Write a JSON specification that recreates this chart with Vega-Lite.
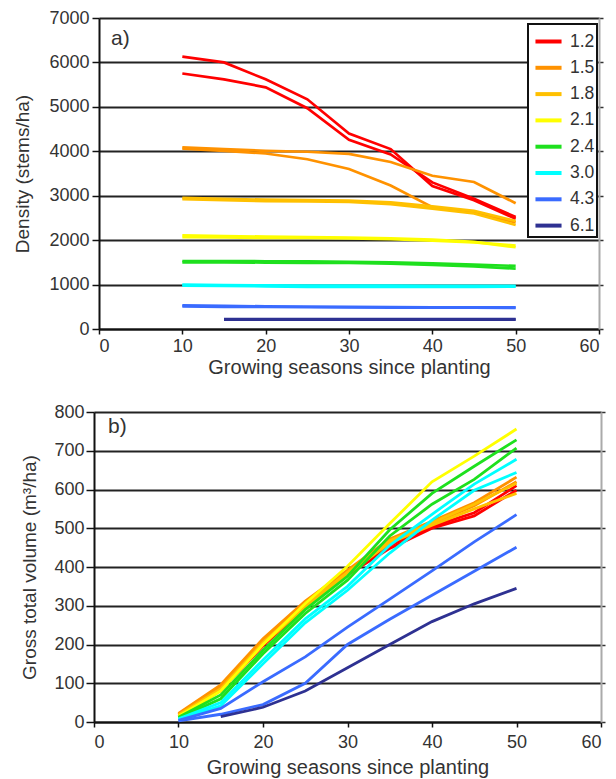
{
  "$schema": "https://vega.github.io/schema/vega-lite/v6.json",
  "padding": {"left": 13, "top": 9, "right": 5, "bottom": 3},
  "spacing": 26,
  "columns": 1,
  "align": "none",
  "background": "white",
  "config": {
    "font": "Liberation Sans",
    "view": {"stroke": null},
    "axis": {
      "labelFont": "Liberation Sans", "titleFont": "Liberation Sans",
      "labelColor": "#333", "titleColor": "#333",
      "labelFontSize": 18, "titleFontSize": 19, "titleFontWeight": "normal",
      "domainColor": "#111", "domainWidth": 2,
      "tickColor": "#111", "tickWidth": 1.5,
      "gridColor": "#222", "gridWidth": 2
    },
    "legend": {
      "symbolType": "stroke", "symbolStrokeWidth": 4, "symbolSize": 680,
      "labelFontSize": 17.5, "labelColor": "#333", "labelFont": "Liberation Sans",
      "padding": 2, "symbolOffset": 3, "labelOffset": 6,
      "strokeColor": "#111", "fillColor": "white"
    }
  },
  "datasets": {
    "dens": [
      {"s":"1.2","r":"A","x":10,"y":6130},{"s":"1.2","r":"A","x":15,"y":6000},{"s":"1.2","r":"A","x":20,"y":5620},{"s":"1.2","r":"A","x":25,"y":5170},{"s":"1.2","r":"A","x":30,"y":4400},{"s":"1.2","r":"A","x":35,"y":4050},{"s":"1.2","r":"A","x":40,"y":3220},{"s":"1.2","r":"A","x":45,"y":2900},{"s":"1.2","r":"A","x":50,"y":2480},
      {"s":"1.2","r":"B","x":10,"y":5750},{"s":"1.2","r":"B","x":15,"y":5620},{"s":"1.2","r":"B","x":20,"y":5440},{"s":"1.2","r":"B","x":25,"y":4970},{"s":"1.2","r":"B","x":30,"y":4260},{"s":"1.2","r":"B","x":35,"y":3930},{"s":"1.2","r":"B","x":40,"y":3300},{"s":"1.2","r":"B","x":45,"y":2930},{"s":"1.2","r":"B","x":50,"y":2520},
      {"s":"1.5","r":"A","x":10,"y":4090},{"s":"1.5","r":"A","x":15,"y":4050},{"s":"1.5","r":"A","x":20,"y":4010},{"s":"1.5","r":"A","x":25,"y":3990},{"s":"1.5","r":"A","x":30,"y":3940},{"s":"1.5","r":"A","x":35,"y":3760},{"s":"1.5","r":"A","x":40,"y":3450},{"s":"1.5","r":"A","x":45,"y":3310},{"s":"1.5","r":"A","x":50,"y":2830},
      {"s":"1.5","r":"B","x":10,"y":4060},{"s":"1.5","r":"B","x":15,"y":4010},{"s":"1.5","r":"B","x":20,"y":3950},{"s":"1.5","r":"B","x":25,"y":3820},{"s":"1.5","r":"B","x":30,"y":3600},{"s":"1.5","r":"B","x":35,"y":3230},{"s":"1.5","r":"B","x":40,"y":2740},{"s":"1.5","r":"B","x":45,"y":2620},{"s":"1.5","r":"B","x":50,"y":2400},
      {"s":"1.8","r":"A","x":10,"y":2950},{"s":"1.8","r":"A","x":15,"y":2930},{"s":"1.8","r":"A","x":20,"y":2910},{"s":"1.8","r":"A","x":25,"y":2900},{"s":"1.8","r":"A","x":30,"y":2890},{"s":"1.8","r":"A","x":35,"y":2850},{"s":"1.8","r":"A","x":40,"y":2760},{"s":"1.8","r":"A","x":45,"y":2660},{"s":"1.8","r":"A","x":50,"y":2430},
      {"s":"1.8","r":"B","x":10,"y":2920},{"s":"1.8","r":"B","x":15,"y":2900},{"s":"1.8","r":"B","x":20,"y":2880},{"s":"1.8","r":"B","x":25,"y":2870},{"s":"1.8","r":"B","x":30,"y":2860},{"s":"1.8","r":"B","x":35,"y":2810},{"s":"1.8","r":"B","x":40,"y":2710},{"s":"1.8","r":"B","x":45,"y":2600},{"s":"1.8","r":"B","x":50,"y":2340},
      {"s":"2.1","r":"A","x":10,"y":2110},{"s":"2.1","r":"A","x":15,"y":2090},{"s":"2.1","r":"A","x":20,"y":2080},{"s":"2.1","r":"A","x":25,"y":2070},{"s":"2.1","r":"A","x":30,"y":2060},{"s":"2.1","r":"A","x":35,"y":2040},{"s":"2.1","r":"A","x":40,"y":2010},{"s":"2.1","r":"A","x":45,"y":1960},{"s":"2.1","r":"A","x":50,"y":1840},
      {"s":"2.1","r":"B","x":10,"y":2070},{"s":"2.1","r":"B","x":15,"y":2060},{"s":"2.1","r":"B","x":20,"y":2050},{"s":"2.1","r":"B","x":25,"y":2050},{"s":"2.1","r":"B","x":30,"y":2040},{"s":"2.1","r":"B","x":35,"y":2020},{"s":"2.1","r":"B","x":40,"y":1990},{"s":"2.1","r":"B","x":45,"y":1950},{"s":"2.1","r":"B","x":50,"y":1880},
      {"s":"2.4","r":"A","x":10,"y":1530},{"s":"2.4","r":"A","x":15,"y":1530},{"s":"2.4","r":"A","x":20,"y":1525},{"s":"2.4","r":"A","x":25,"y":1520},{"s":"2.4","r":"A","x":30,"y":1510},{"s":"2.4","r":"A","x":35,"y":1500},{"s":"2.4","r":"A","x":40,"y":1480},{"s":"2.4","r":"A","x":45,"y":1450},{"s":"2.4","r":"A","x":50,"y":1420},
      {"s":"2.4","r":"B","x":10,"y":1500},{"s":"2.4","r":"B","x":15,"y":1500},{"s":"2.4","r":"B","x":20,"y":1495},{"s":"2.4","r":"B","x":25,"y":1490},{"s":"2.4","r":"B","x":30,"y":1485},{"s":"2.4","r":"B","x":35,"y":1470},{"s":"2.4","r":"B","x":40,"y":1440},{"s":"2.4","r":"B","x":45,"y":1410},{"s":"2.4","r":"B","x":50,"y":1360},
      {"s":"3.0","r":"A","x":10,"y":1000},{"s":"3.0","r":"A","x":15,"y":990},{"s":"3.0","r":"A","x":20,"y":980},{"s":"3.0","r":"A","x":25,"y":975},{"s":"3.0","r":"A","x":30,"y":975},{"s":"3.0","r":"A","x":35,"y":975},{"s":"3.0","r":"A","x":40,"y":970},{"s":"3.0","r":"A","x":45,"y":970},{"s":"3.0","r":"A","x":50,"y":970},
      {"s":"3.0","r":"B","x":10,"y":975},{"s":"3.0","r":"B","x":15,"y":970},{"s":"3.0","r":"B","x":20,"y":960},{"s":"3.0","r":"B","x":25,"y":950},{"s":"3.0","r":"B","x":30,"y":950},{"s":"3.0","r":"B","x":35,"y":950},{"s":"3.0","r":"B","x":40,"y":950},{"s":"3.0","r":"B","x":45,"y":950},{"s":"3.0","r":"B","x":50,"y":955},
      {"s":"4.3","r":"A","x":10,"y":530},{"s":"4.3","r":"A","x":15,"y":520},{"s":"4.3","r":"A","x":20,"y":510},{"s":"4.3","r":"A","x":25,"y":505},{"s":"4.3","r":"A","x":30,"y":500},{"s":"4.3","r":"A","x":35,"y":495},{"s":"4.3","r":"A","x":40,"y":490},{"s":"4.3","r":"A","x":45,"y":490},{"s":"4.3","r":"A","x":50,"y":490},
      {"s":"4.3","r":"B","x":10,"y":510},{"s":"4.3","r":"B","x":15,"y":500},{"s":"4.3","r":"B","x":20,"y":495},{"s":"4.3","r":"B","x":25,"y":490},{"s":"4.3","r":"B","x":30,"y":485},{"s":"4.3","r":"B","x":35,"y":480},{"s":"4.3","r":"B","x":40,"y":480},{"s":"4.3","r":"B","x":45,"y":478},{"s":"4.3","r":"B","x":50,"y":475},
      {"s":"6.1","r":"A","x":15,"y":225},{"s":"6.1","r":"A","x":20,"y":225},{"s":"6.1","r":"A","x":25,"y":225},{"s":"6.1","r":"A","x":30,"y":224},{"s":"6.1","r":"A","x":35,"y":223},{"s":"6.1","r":"A","x":40,"y":222},{"s":"6.1","r":"A","x":45,"y":222},{"s":"6.1","r":"A","x":50,"y":222},
      {"s":"6.1","r":"B","x":15,"y":212},{"s":"6.1","r":"B","x":20,"y":212},{"s":"6.1","r":"B","x":25,"y":212},{"s":"6.1","r":"B","x":30,"y":212},{"s":"6.1","r":"B","x":35,"y":211},{"s":"6.1","r":"B","x":40,"y":211},{"s":"6.1","r":"B","x":45,"y":210},{"s":"6.1","r":"B","x":50,"y":210}
    ],
    "vol": [
      {"s":"1.2","r":"A","x":10,"y":18},{"s":"1.2","r":"A","x":15,"y":88},{"s":"1.2","r":"A","x":20,"y":200},{"s":"1.2","r":"A","x":25,"y":300},{"s":"1.2","r":"A","x":30,"y":385},{"s":"1.2","r":"A","x":35,"y":455},{"s":"1.2","r":"A","x":40,"y":505},{"s":"1.2","r":"A","x":45,"y":540},{"s":"1.2","r":"A","x":50,"y":610},
      {"s":"1.2","r":"B","x":10,"y":15},{"s":"1.2","r":"B","x":15,"y":82},{"s":"1.2","r":"B","x":20,"y":196},{"s":"1.2","r":"B","x":25,"y":296},{"s":"1.2","r":"B","x":30,"y":380},{"s":"1.2","r":"B","x":35,"y":448},{"s":"1.2","r":"B","x":40,"y":500},{"s":"1.2","r":"B","x":45,"y":532},{"s":"1.2","r":"B","x":50,"y":598},
      {"s":"1.5","r":"A","x":10,"y":22},{"s":"1.5","r":"A","x":15,"y":96},{"s":"1.5","r":"A","x":20,"y":215},{"s":"1.5","r":"A","x":25,"y":312},{"s":"1.5","r":"A","x":30,"y":392},{"s":"1.5","r":"A","x":35,"y":472},{"s":"1.5","r":"A","x":40,"y":518},{"s":"1.5","r":"A","x":45,"y":566},{"s":"1.5","r":"A","x":50,"y":632},
      {"s":"1.5","r":"B","x":10,"y":20},{"s":"1.5","r":"B","x":15,"y":92},{"s":"1.5","r":"B","x":20,"y":210},{"s":"1.5","r":"B","x":25,"y":306},{"s":"1.5","r":"B","x":30,"y":387},{"s":"1.5","r":"B","x":35,"y":466},{"s":"1.5","r":"B","x":40,"y":512},{"s":"1.5","r":"B","x":45,"y":558},{"s":"1.5","r":"B","x":50,"y":620},
      {"s":"1.8","r":"A","x":10,"y":18},{"s":"1.8","r":"A","x":15,"y":86},{"s":"1.8","r":"A","x":20,"y":205},{"s":"1.8","r":"A","x":25,"y":302},{"s":"1.8","r":"A","x":30,"y":386},{"s":"1.8","r":"A","x":35,"y":468},{"s":"1.8","r":"A","x":40,"y":514},{"s":"1.8","r":"A","x":45,"y":562},{"s":"1.8","r":"A","x":50,"y":616},
      {"s":"1.8","r":"B","x":10,"y":15},{"s":"1.8","r":"B","x":15,"y":80},{"s":"1.8","r":"B","x":20,"y":200},{"s":"1.8","r":"B","x":25,"y":296},{"s":"1.8","r":"B","x":30,"y":381},{"s":"1.8","r":"B","x":35,"y":462},{"s":"1.8","r":"B","x":40,"y":508},{"s":"1.8","r":"B","x":45,"y":550},{"s":"1.8","r":"B","x":50,"y":590},
      {"s":"2.1","r":"A","x":10,"y":15},{"s":"2.1","r":"A","x":15,"y":80},{"s":"2.1","r":"A","x":20,"y":200},{"s":"2.1","r":"A","x":25,"y":306},{"s":"2.1","r":"A","x":30,"y":402},{"s":"2.1","r":"A","x":35,"y":512},{"s":"2.1","r":"A","x":40,"y":620},{"s":"2.1","r":"A","x":45,"y":686},{"s":"2.1","r":"A","x":50,"y":756},
      {"s":"2.4","r":"A","x":10,"y":12},{"s":"2.4","r":"A","x":15,"y":70},{"s":"2.4","r":"A","x":20,"y":185},{"s":"2.4","r":"A","x":25,"y":290},{"s":"2.4","r":"A","x":30,"y":376},{"s":"2.4","r":"A","x":35,"y":496},{"s":"2.4","r":"A","x":40,"y":590},{"s":"2.4","r":"A","x":45,"y":660},{"s":"2.4","r":"A","x":50,"y":728},
      {"s":"2.4","r":"B","x":10,"y":10},{"s":"2.4","r":"B","x":15,"y":60},{"s":"2.4","r":"B","x":20,"y":176},{"s":"2.4","r":"B","x":25,"y":280},{"s":"2.4","r":"B","x":30,"y":366},{"s":"2.4","r":"B","x":35,"y":480},{"s":"2.4","r":"B","x":40,"y":562},{"s":"2.4","r":"B","x":45,"y":626},{"s":"2.4","r":"B","x":50,"y":707},
      {"s":"3.0","r":"A","x":10,"y":8},{"s":"3.0","r":"A","x":15,"y":50},{"s":"3.0","r":"A","x":20,"y":160},{"s":"3.0","r":"A","x":25,"y":266},{"s":"3.0","r":"A","x":30,"y":350},{"s":"3.0","r":"A","x":35,"y":456},{"s":"3.0","r":"A","x":40,"y":536},{"s":"3.0","r":"A","x":45,"y":614},{"s":"3.0","r":"A","x":50,"y":678},
      {"s":"3.0","r":"B","x":10,"y":6},{"s":"3.0","r":"B","x":15,"y":42},{"s":"3.0","r":"B","x":20,"y":150},{"s":"3.0","r":"B","x":25,"y":256},{"s":"3.0","r":"B","x":30,"y":340},{"s":"3.0","r":"B","x":35,"y":436},{"s":"3.0","r":"B","x":40,"y":521},{"s":"3.0","r":"B","x":45,"y":598},{"s":"3.0","r":"B","x":50,"y":644},
      {"s":"4.3","r":"A","x":10,"y":4},{"s":"4.3","r":"A","x":15,"y":35},{"s":"4.3","r":"A","x":20,"y":104},{"s":"4.3","r":"A","x":25,"y":168},{"s":"4.3","r":"A","x":30,"y":245},{"s":"4.3","r":"A","x":35,"y":317},{"s":"4.3","r":"A","x":40,"y":390},{"s":"4.3","r":"A","x":45,"y":465},{"s":"4.3","r":"A","x":50,"y":535},
      {"s":"4.3","r":"B","x":10,"y":3},{"s":"4.3","r":"B","x":15,"y":20},{"s":"4.3","r":"B","x":20,"y":45},{"s":"4.3","r":"B","x":25,"y":100},{"s":"4.3","r":"B","x":30,"y":200},{"s":"4.3","r":"B","x":35,"y":265},{"s":"4.3","r":"B","x":40,"y":327},{"s":"4.3","r":"B","x":45,"y":389},{"s":"4.3","r":"B","x":50,"y":451},
      {"s":"6.1","r":"A","x":15,"y":14},{"s":"6.1","r":"A","x":20,"y":38},{"s":"6.1","r":"A","x":25,"y":80},{"s":"6.1","r":"A","x":30,"y":140},{"s":"6.1","r":"A","x":35,"y":200},{"s":"6.1","r":"A","x":40,"y":259},{"s":"6.1","r":"A","x":45,"y":305},{"s":"6.1","r":"A","x":50,"y":345}
    ]
  },
  "concat": [
    {
      "width": 500,
      "height": 311,
      "title": {"text": "a)", "anchor": "start", "frame": "group", "offset": -28, "dy": 29, "dx": 12, "fontSize": 21, "fontWeight": "normal", "color": "#333", "baseline": "alphabetic", "font": "Liberation Sans"},
      "layer": [
        {
          "data": {"name": "dens"},
          "mark": {"type": "line", "strokeWidth": 2.7},
          "encoding": {
            "x": {"field": "x", "type": "quantitative", "scale": {"domain": [0, 60], "nice": false},
                  "axis": {"values": [0, 10, 20, 30, 40, 50, 60], "title": "Growing seasons since planting", "grid": false, "tickSize": 5, "labelPadding": 3, "titlePadding": 2, "titleFontSize": 20}},
            "y": {"field": "y", "type": "quantitative", "scale": {"domain": [0, 7000], "nice": false},
                  "axis": {"values": [0, 1000, 2000, 3000, 4000, 5000, 6000, 7000], "format": "d", "title": "Density (stems/ha)", "grid": true, "tickSize": 7, "labelPadding": 3, "titlePadding": 16}},
            "color": {"field": "s", "type": "nominal",
                      "scale": {"domain": ["1.2", "1.5", "1.8", "2.1", "2.4", "3.0", "4.3", "6.1"],
                                "range": ["#ff0000", "#ff9200", "#ffc000", "#ffff00", "#1ee01e", "#00ffff", "#3a6bff", "#2e3192"]},
                      "legend": {"title": null, "orient": "none", "legendX": 429, "legendY": 6, "rowPadding": 2.3,
                                 "encode": {"legend": {"update": {"strokeWidth": {"value": 2}}}}}},
            "detail": {"field": "r"}
          }
        },
        {
          "data": {"name": "dens"},
          "mark": {"type": "point", "opacity": 0},
          "encoding": {
            "y": {"field": "y", "type": "quantitative",
                  "axis": {"orient": "right", "values": [0, 1000, 2000, 3000, 4000, 5000, 6000, 7000], "labels": false, "title": null, "grid": false, "domainColor": "#aaa", "domainWidth": 2, "tickSize": 4, "tickColor": "#333"}}
          }
        }
      ],
      "resolve": {"axis": {"y": "independent"}}
    },
    {
      "width": 507,
      "height": 310,
      "title": {"text": "b)", "anchor": "start", "frame": "group", "offset": -25, "dy": 26, "dx": 9, "fontSize": 21, "fontWeight": "normal", "color": "#333", "baseline": "alphabetic", "font": "Liberation Sans"},
      "layer": [
        {
          "data": {"name": "vol"},
          "mark": {"type": "line", "strokeWidth": 2.8},
          "encoding": {
            "x": {"field": "x", "type": "quantitative", "scale": {"domain": [0, 60], "nice": false, "range": [-5, 502]},
                  "axis": {"values": [0, 10, 20, 30, 40, 50, 60], "title": "Growing seasons since planting", "grid": false, "tickSize": 5, "labelPadding": 6, "titlePadding": 6, "titleFontSize": 20}},
            "y": {"field": "y", "type": "quantitative", "scale": {"domain": [0, 800], "nice": false},
                  "axis": {"values": [0, 100, 200, 300, 400, 500, 600, 700, 800], "format": "d", "title": "Gross total volume (m³/ha)", "grid": true, "offset": 5, "tickSize": 8, "labelPadding": 2, "titlePadding": 14}},
            "color": {"field": "s", "type": "nominal",
                      "scale": {"domain": ["1.2", "1.5", "1.8", "2.1", "2.4", "3.0", "4.3", "6.1"],
                                "range": ["#ff0000", "#ff9200", "#ffc000", "#ffff00", "#1ee01e", "#00ffff", "#3a6bff", "#2e3192"]},
                      "legend": {"title": null, "orient": "none", "legendX": 427, "legendY": 3, "rowPadding": 2.3,
                                 "encode": {"legend": {"update": {"strokeWidth": {"value": 2}}}}}},
            "detail": {"field": "r"}
          }
        },
        {
          "data": {"name": "vol"},
          "mark": {"type": "point", "opacity": 0},
          "encoding": {
            "y": {"field": "y", "type": "quantitative",
                  "axis": {"orient": "right", "offset": -5, "values": [0, 100, 200, 300, 400, 500, 600, 700, 800], "labels": false, "title": null, "grid": false, "domainColor": "#aaa", "domainWidth": 2, "tickSize": 4, "tickColor": "#333"}}
          }
        }
      ],
      "resolve": {"axis": {"y": "independent"}}
    }
  ]
}
